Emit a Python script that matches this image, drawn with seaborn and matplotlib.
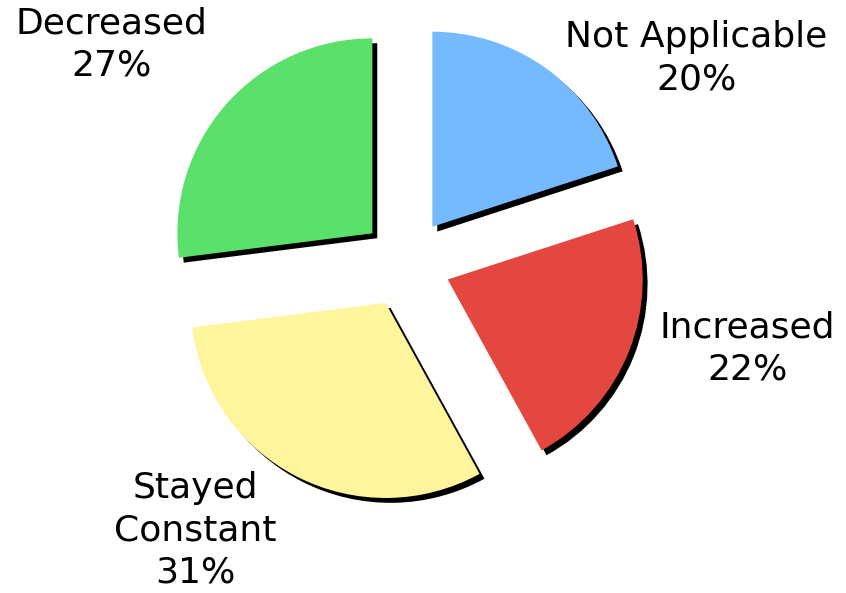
import matplotlib
matplotlib.use("Agg")
import matplotlib.pyplot as plt
import seaborn as sns

sns.set_theme(style="white")
plt.rcParams['font.family'] = ['DejaVu Sans']

# pie data, clockwise from the top
categories = ["Not Applicable", "Increased", "Stayed\nConstant", "Decreased"]
percents = [20, 22, 31, 27]
colors = ["#75BAFF", "#E44640", "#FFF59D", "#5BE06B"]

# label centres (in pie-radius units)
label_xy = [(1.49, 1.05), (1.75, -0.44), (-1.08, -1.37), (-1.51, 1.12)]

fig = plt.figure(figsize=(8.46, 5.93), dpi=100)
ax = fig.add_axes([0, 0, 1, 1])

wedges, _ = ax.pie(percents, colors=colors, startangle=90, counterclock=False,
                   explode=[0.23] * 4,
                   shadow={'ox': 0.018, 'oy': -0.018, 'shade': 1.0, 'alpha': 1},
                   wedgeprops={'linewidth': 0})

for cat, pct, (x, y) in zip(categories, percents, label_xy):
    ax.text(x, y, f"{cat}\n{pct}%", ha="center", va="center",
            fontsize=26, color="black", linespacing=1.3)

# map pixel layout: centre at (406, 263), radius 195 px
r = 195
cx, cy = 406, 263
ax.set_xlim(-cx / r, (846 - cx) / r)
ax.set_ylim(-(593 - cy) / r, cy / r)
ax.axis("off")

fig.savefig("out.png", dpi=100)
